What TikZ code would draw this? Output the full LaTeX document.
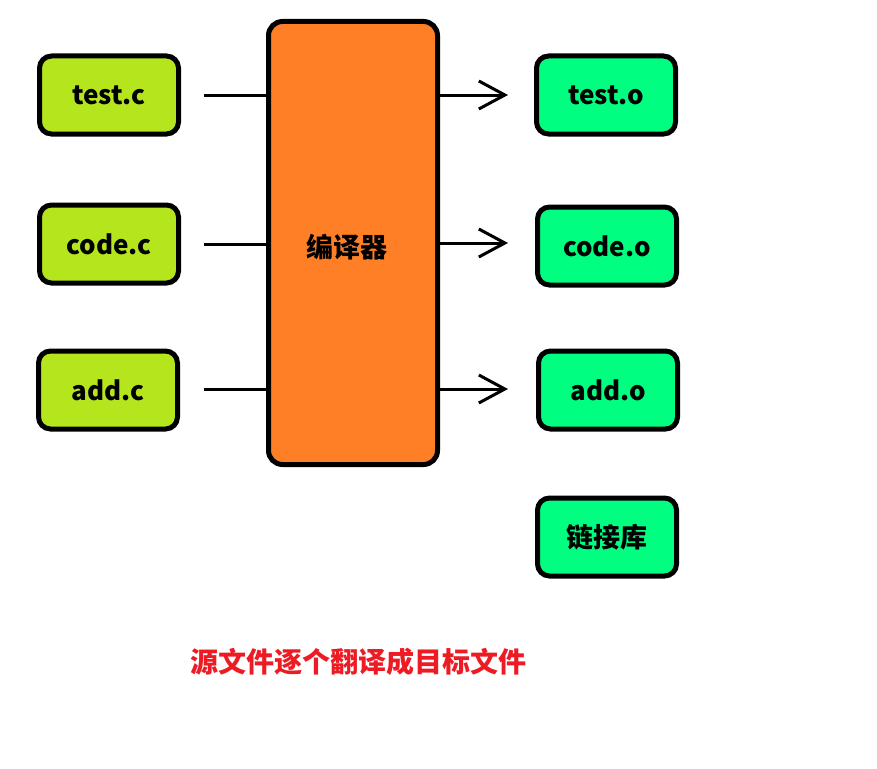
\documentclass[tikz,border=0pt]{standalone}
\usepackage{fontspec}
\newfontfamily\cjk{Noto Sans CJK SC}
\usetikzlibrary{arrows.meta}
\newlength{\du}
\setlength{\du}{1pt}
\definecolor{srccolor}{rgb}{0.710000, 0.902000, 0.114000}
\definecolor{objcolor}{rgb}{0.000000, 1.000000, 0.502000}
\definecolor{cccolor}{rgb}{1.000000, 0.498000, 0.153000}
\definecolor{notecolor}{rgb}{0.929000, 0.110000, 0.141000}
\tikzset{
  filebox/.style={draw=black, line width=5\du, rounded corners=12\du, inner sep=0pt,
    minimum width=139\du, minimum height=78\du, font=\cjk\bfseries\fontsize{26}{28}\selectfont},
  srcbox/.style={filebox, fill=srccolor},
  objbox/.style={filebox, fill=objcolor},
  ccbox/.style={draw=black, line width=5\du, rounded corners=14\du, inner sep=0pt, fill=cccolor,
    minimum width=169\du, minimum height=443\du},
  feed/.style={draw=black, line width=3\du},
  emit/.style={feed, -{Straight Barb[length=26pt,width=28pt]}}
}
\begin{document}
\begin{tikzpicture}
\pgftransformxscale{1.000000}
\pgftransformyscale{-1.000000}
\useasboundingbox (0\du,0\du) rectangle (877\du,768\du);
% source files
\node[srcbox] (srcTest) at (109\du,95\du) {test.c};
\node[srcbox] (srcCode) at (109\du,244\du) {code.c};
\node[srcbox] (srcAdd) at (108\du,390\du) {add.c};
% compiler
\node[ccbox] (compiler) at (353\du,243\du) {};
\node[font=\cjk\bfseries\fontsize{27}{30}\selectfont] (ccLabel) at (347\du,247\du) {编译器};
% object files
\node[objbox] (objTest) at (606\du,95\du) {test.o};
\node[objbox] (objCode) at (607\du,246\du) {code.o};
\node[objbox] (objAdd) at (608\du,390\du) {add.o};
\node[objbox, font=\cjk\bfseries\fontsize{27}{30}\selectfont] (linkLib) at (607\du,537\du) {链接库};
% free ends of the connectors
\coordinate (inTest) at (204\du,95\du);
\coordinate (inCode) at (204\du,244\du);
\coordinate (inAdd) at (204\du,389\du);
\coordinate (outTest) at (508\du,95\du);
\coordinate (outCode) at (508\du,243\du);
\coordinate (outAdd) at (508\du,389\du);
\draw[feed] (inTest) -- (inTest -| compiler.west);
\draw[feed] (inCode) -- (inCode -| compiler.west);
\draw[feed] (inAdd) -- (inAdd -| compiler.west);
\draw[emit] (outTest -| compiler.east) -- (outTest);
\draw[emit] (outCode -| compiler.east) -- (outCode);
\draw[emit] (outAdd -| compiler.east) -- (outAdd);
% caption
\node[font=\cjk\bfseries\fontsize{28}{32}\selectfont, text=notecolor] (note) at (358\du,662\du) {源文件逐个翻译成目标文件};
\end{tikzpicture}
\end{document}
